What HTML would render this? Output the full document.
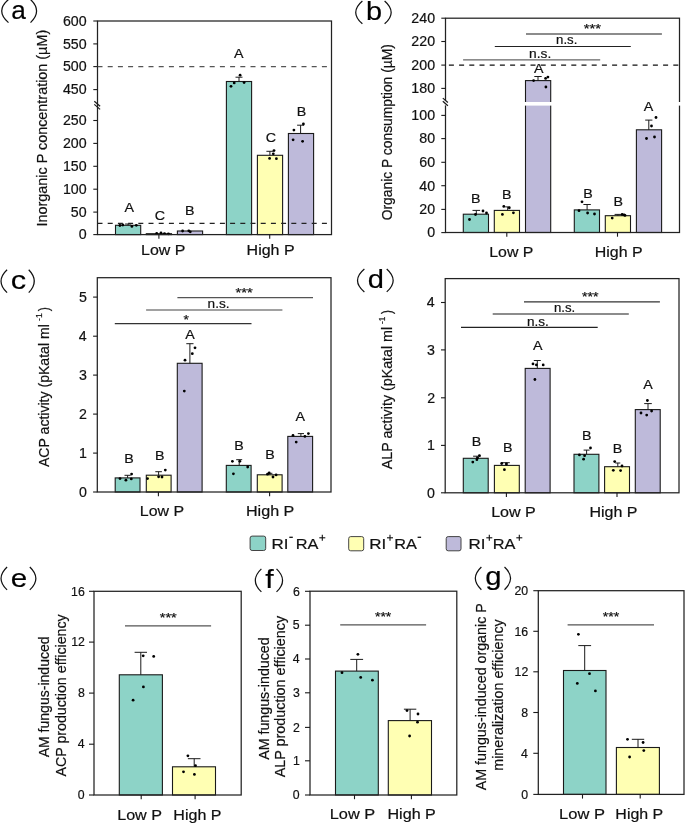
<!DOCTYPE html><html><head><meta charset="utf-8"><style>html,body{margin:0;padding:0;background:#fff;overflow:hidden;}svg{display:block;will-change:transform;}text{font-family:"Liberation Sans",sans-serif;stroke:#111;stroke-width:0.2px;}</style></head><body>
<svg width="685" height="823" viewBox="0 0 685 823">
<rect width="685" height="823" fill="#fff"/>
<rect x="115.50" y="225.30" width="25.20" height="9.30" fill="#8dd3c7" stroke="#1a1a1a" stroke-width="1.1"/>
<rect x="146.30" y="233.70" width="25.20" height="0.90" fill="#ffffb3" stroke="#1a1a1a" stroke-width="1.1"/>
<rect x="177.40" y="231.00" width="25.20" height="3.60" fill="#bebada" stroke="#1a1a1a" stroke-width="1.1"/>
<rect x="226.40" y="81.50" width="25.20" height="153.10" fill="#8dd3c7" stroke="#1a1a1a" stroke-width="1.1"/>
<rect x="257.40" y="155.30" width="25.20" height="79.30" fill="#ffffb3" stroke="#1a1a1a" stroke-width="1.1"/>
<rect x="288.40" y="133.50" width="25.20" height="101.10" fill="#bebada" stroke="#1a1a1a" stroke-width="1.1"/>
<line x1="239.00" y1="81.50" x2="239.00" y2="77.20" stroke="#1a1a1a" stroke-width="1.0" />
<line x1="235.50" y1="77.20" x2="242.50" y2="77.20" stroke="#1a1a1a" stroke-width="1.0" />
<line x1="269.90" y1="155.30" x2="269.90" y2="151.30" stroke="#1a1a1a" stroke-width="1.0" />
<line x1="266.40" y1="151.30" x2="273.40" y2="151.30" stroke="#1a1a1a" stroke-width="1.0" />
<line x1="300.60" y1="133.50" x2="300.60" y2="125.20" stroke="#1a1a1a" stroke-width="1.0" />
<line x1="297.10" y1="125.20" x2="304.10" y2="125.20" stroke="#1a1a1a" stroke-width="1.0" />
<line x1="128.10" y1="225.30" x2="128.10" y2="224.00" stroke="#1a1a1a" stroke-width="1.0" />
<line x1="125.10" y1="224.00" x2="131.10" y2="224.00" stroke="#1a1a1a" stroke-width="1.0" />
<circle cx="240.10" cy="75.20" r="1.4" fill="#000"/>
<circle cx="234.20" cy="82.90" r="1.4" fill="#000"/>
<circle cx="231.00" cy="86.30" r="1.4" fill="#000"/>
<circle cx="244.10" cy="82.60" r="1.4" fill="#000"/>
<circle cx="274.00" cy="150.60" r="1.4" fill="#000"/>
<circle cx="273.30" cy="153.80" r="1.4" fill="#000"/>
<circle cx="269.60" cy="158.40" r="1.4" fill="#000"/>
<circle cx="276.40" cy="158.70" r="1.4" fill="#000"/>
<circle cx="303.40" cy="124.00" r="1.4" fill="#000"/>
<circle cx="293.90" cy="130.10" r="1.4" fill="#000"/>
<circle cx="293.10" cy="139.80" r="1.4" fill="#000"/>
<circle cx="302.60" cy="141.30" r="1.4" fill="#000"/>
<circle cx="119.90" cy="225.50" r="1.4" fill="#000"/>
<circle cx="122.80" cy="225.00" r="1.4" fill="#000"/>
<circle cx="131.90" cy="226.40" r="1.4" fill="#000"/>
<circle cx="136.30" cy="225.30" r="1.4" fill="#000"/>
<circle cx="156.70" cy="233.50" r="1.4" fill="#000"/>
<circle cx="161.00" cy="233.00" r="1.4" fill="#000"/>
<circle cx="164.50" cy="233.60" r="1.4" fill="#000"/>
<circle cx="168.40" cy="233.80" r="1.4" fill="#000"/>
<circle cx="182.60" cy="231.00" r="1.4" fill="#000"/>
<circle cx="188.80" cy="230.80" r="1.4" fill="#000"/>
<circle cx="190.30" cy="231.80" r="1.4" fill="#000"/>
<rect x="97.50" y="21.00" width="234.00" height="213.60" fill="none" stroke="#222" stroke-width="1.25"/>
<line x1="97.50" y1="66.60" x2="328.00" y2="66.60" stroke="#555" stroke-width="1.2" stroke-dasharray="5.0,5.2"/>
<line x1="97.50" y1="223.30" x2="328.00" y2="223.30" stroke="#222" stroke-width="1.2" stroke-dasharray="5.0,5.2"/>
<line x1="93.30" y1="21.00" x2="97.50" y2="21.00" stroke="#1a1a1a" stroke-width="1.1" />
<text x="62.95" y="25.88" font-size="14.20" textLength="23.69" lengthAdjust="spacingAndGlyphs" fill="#111" >600</text>
<line x1="93.30" y1="43.90" x2="97.50" y2="43.90" stroke="#1a1a1a" stroke-width="1.1" />
<text x="62.95" y="48.78" font-size="14.20" textLength="23.69" lengthAdjust="spacingAndGlyphs" fill="#111" >550</text>
<line x1="93.30" y1="66.60" x2="97.50" y2="66.60" stroke="#1a1a1a" stroke-width="1.1" />
<text x="62.95" y="71.48" font-size="14.20" textLength="23.69" lengthAdjust="spacingAndGlyphs" fill="#111" >500</text>
<line x1="93.30" y1="89.60" x2="97.50" y2="89.60" stroke="#1a1a1a" stroke-width="1.1" />
<text x="62.95" y="94.48" font-size="14.20" textLength="23.69" lengthAdjust="spacingAndGlyphs" fill="#111" >450</text>
<line x1="93.30" y1="120.50" x2="97.50" y2="120.50" stroke="#1a1a1a" stroke-width="1.1" />
<text x="62.95" y="125.38" font-size="14.20" textLength="23.69" lengthAdjust="spacingAndGlyphs" fill="#111" >250</text>
<line x1="93.30" y1="143.40" x2="97.50" y2="143.40" stroke="#1a1a1a" stroke-width="1.1" />
<text x="62.95" y="148.28" font-size="14.20" textLength="23.69" lengthAdjust="spacingAndGlyphs" fill="#111" >200</text>
<line x1="93.30" y1="166.30" x2="97.50" y2="166.30" stroke="#1a1a1a" stroke-width="1.1" />
<text x="62.95" y="171.18" font-size="14.20" textLength="23.69" lengthAdjust="spacingAndGlyphs" fill="#111" >150</text>
<line x1="93.30" y1="189.20" x2="97.50" y2="189.20" stroke="#1a1a1a" stroke-width="1.1" />
<text x="62.95" y="194.08" font-size="14.20" textLength="23.69" lengthAdjust="spacingAndGlyphs" fill="#111" >100</text>
<line x1="93.30" y1="212.10" x2="97.50" y2="212.10" stroke="#1a1a1a" stroke-width="1.1" />
<text x="70.87" y="216.98" font-size="14.20" textLength="15.80" lengthAdjust="spacingAndGlyphs" fill="#111" >50</text>
<line x1="93.30" y1="234.60" x2="97.50" y2="234.60" stroke="#1a1a1a" stroke-width="1.1" />
<text x="78.75" y="239.48" font-size="14.20" textLength="7.90" lengthAdjust="spacingAndGlyphs" fill="#111" >0</text>
<line x1="94.30" y1="101.30" x2="100.10" y2="106.30" stroke="#1a1a1a" stroke-width="1.2" />
<line x1="94.30" y1="104.40" x2="100.10" y2="109.40" stroke="#1a1a1a" stroke-width="1.2" />
<line x1="158.90" y1="234.60" x2="158.90" y2="238.80" stroke="#1a1a1a" stroke-width="1.1" />
<line x1="269.70" y1="234.60" x2="269.70" y2="238.80" stroke="#1a1a1a" stroke-width="1.1" />
<text x="124.64" y="211.80" font-size="13.20" textLength="9.51" lengthAdjust="spacingAndGlyphs" fill="#111" >A</text>
<text x="154.66" y="220.10" font-size="13.20" textLength="10.30" lengthAdjust="spacingAndGlyphs" fill="#111" >C</text>
<text x="184.93" y="214.70" font-size="13.20" textLength="9.51" lengthAdjust="spacingAndGlyphs" fill="#111" >B</text>
<text x="234.04" y="58.00" font-size="13.20" textLength="9.51" lengthAdjust="spacingAndGlyphs" fill="#111" >A</text>
<text x="265.76" y="141.80" font-size="13.20" textLength="10.30" lengthAdjust="spacingAndGlyphs" fill="#111" >C</text>
<text x="296.73" y="115.80" font-size="13.20" textLength="9.51" lengthAdjust="spacingAndGlyphs" fill="#111" >B</text>
<text x="141.08" y="254.90" font-size="14.80" textLength="44.34" lengthAdjust="spacingAndGlyphs" fill="#111" >Low P</text>
<text x="246.58" y="254.90" font-size="14.80" textLength="48.05" lengthAdjust="spacingAndGlyphs" fill="#111" >High P</text>
<text transform="translate(46.60,226.53) rotate(-90)" font-size="14.30" textLength="196.70" lengthAdjust="spacingAndGlyphs" fill="#111">Inorganic P concentration (µM)</text>
<path d="M8.47,-0.50 Q-5.02,11.05 8.47,22.60" fill="none" stroke="#111" stroke-width="1.25"/>
<path d="M30.52,-0.50 Q42.63,11.05 30.52,22.60" fill="none" stroke="#111" stroke-width="1.25"/>
<text x="11.29" y="18.90" font-size="26.00" textLength="14.58" lengthAdjust="spacingAndGlyphs" fill="#000" >a</text>
<rect x="463.30" y="214.20" width="25.20" height="18.30" fill="#8dd3c7" stroke="#1a1a1a" stroke-width="1.1"/>
<rect x="494.30" y="210.40" width="25.20" height="22.10" fill="#ffffb3" stroke="#1a1a1a" stroke-width="1.1"/>
<rect x="525.50" y="80.60" width="25.20" height="151.90" fill="#bebada" stroke="#1a1a1a" stroke-width="1.1"/>
<rect x="574.30" y="209.90" width="25.20" height="22.60" fill="#8dd3c7" stroke="#1a1a1a" stroke-width="1.1"/>
<rect x="605.30" y="215.70" width="25.20" height="16.80" fill="#ffffb3" stroke="#1a1a1a" stroke-width="1.1"/>
<rect x="636.40" y="129.80" width="25.20" height="102.70" fill="#bebada" stroke="#1a1a1a" stroke-width="1.1"/>
<line x1="476.30" y1="214.20" x2="476.30" y2="210.40" stroke="#1a1a1a" stroke-width="1.0" />
<line x1="472.50" y1="210.40" x2="480.10" y2="210.40" stroke="#1a1a1a" stroke-width="1.0" />
<line x1="507.70" y1="210.40" x2="507.70" y2="206.90" stroke="#1a1a1a" stroke-width="1.0" />
<line x1="505.20" y1="206.90" x2="510.20" y2="206.90" stroke="#1a1a1a" stroke-width="1.0" />
<line x1="538.00" y1="80.60" x2="538.00" y2="76.50" stroke="#1a1a1a" stroke-width="1.0" />
<line x1="534.30" y1="76.50" x2="541.70" y2="76.50" stroke="#1a1a1a" stroke-width="1.0" />
<line x1="587.10" y1="209.90" x2="587.10" y2="204.50" stroke="#1a1a1a" stroke-width="1.0" />
<line x1="583.40" y1="204.50" x2="590.80" y2="204.50" stroke="#1a1a1a" stroke-width="1.0" />
<line x1="617.90" y1="215.70" x2="617.90" y2="214.40" stroke="#1a1a1a" stroke-width="1.0" />
<line x1="614.60" y1="214.40" x2="621.20" y2="214.40" stroke="#1a1a1a" stroke-width="1.0" />
<line x1="648.80" y1="129.80" x2="648.80" y2="120.10" stroke="#1a1a1a" stroke-width="1.0" />
<line x1="645.20" y1="120.10" x2="652.40" y2="120.10" stroke="#1a1a1a" stroke-width="1.0" />
<circle cx="469.50" cy="219.50" r="1.4" fill="#000"/>
<circle cx="475.50" cy="214.50" r="1.4" fill="#000"/>
<circle cx="483.00" cy="211.00" r="1.4" fill="#000"/>
<circle cx="486.50" cy="213.00" r="1.4" fill="#000"/>
<circle cx="503.80" cy="206.40" r="1.4" fill="#000"/>
<circle cx="509.30" cy="207.80" r="1.4" fill="#000"/>
<circle cx="502.40" cy="214.40" r="1.4" fill="#000"/>
<circle cx="513.40" cy="212.80" r="1.4" fill="#000"/>
<circle cx="533.60" cy="80.60" r="1.4" fill="#000"/>
<circle cx="545.60" cy="78.40" r="1.4" fill="#000"/>
<circle cx="547.90" cy="77.10" r="1.4" fill="#000"/>
<circle cx="545.90" cy="87.00" r="1.4" fill="#000"/>
<circle cx="582.00" cy="201.80" r="1.4" fill="#000"/>
<circle cx="579.00" cy="210.70" r="1.4" fill="#000"/>
<circle cx="587.60" cy="213.00" r="1.4" fill="#000"/>
<circle cx="594.50" cy="214.00" r="1.4" fill="#000"/>
<circle cx="612.20" cy="218.10" r="1.4" fill="#000"/>
<circle cx="622.20" cy="214.40" r="1.4" fill="#000"/>
<circle cx="624.10" cy="214.90" r="1.4" fill="#000"/>
<circle cx="625.00" cy="215.40" r="1.4" fill="#000"/>
<circle cx="656.00" cy="117.50" r="1.4" fill="#000"/>
<circle cx="651.50" cy="126.00" r="1.4" fill="#000"/>
<circle cx="646.50" cy="138.50" r="1.4" fill="#000"/>
<circle cx="654.50" cy="137.00" r="1.4" fill="#000"/>
<rect x="445.50" y="18.20" width="234.00" height="214.30" fill="none" stroke="#222" stroke-width="1.25"/>
<line x1="448.90" y1="65.20" x2="679.50" y2="65.20" stroke="#111" stroke-width="1.2" stroke-dasharray="5.0,5.2"/>
<rect x="446.30" y="102.0" width="235.00" height="3.6" fill="#fff"/>
<rect x="444.50" y="100.6" width="2" height="4.8" fill="#fff"/>
<line x1="442.80" y1="98.10" x2="447.90" y2="102.50" stroke="#1a1a1a" stroke-width="1.2" />
<line x1="442.80" y1="101.30" x2="447.90" y2="105.80" stroke="#1a1a1a" stroke-width="1.2" />
<line x1="441.30" y1="18.20" x2="445.50" y2="18.20" stroke="#1a1a1a" stroke-width="1.1" />
<text x="411.35" y="23.08" font-size="14.20" textLength="23.69" lengthAdjust="spacingAndGlyphs" fill="#111" >240</text>
<line x1="441.30" y1="41.50" x2="445.50" y2="41.50" stroke="#1a1a1a" stroke-width="1.1" />
<text x="411.35" y="46.38" font-size="14.20" textLength="23.69" lengthAdjust="spacingAndGlyphs" fill="#111" >220</text>
<line x1="441.30" y1="65.10" x2="445.50" y2="65.10" stroke="#1a1a1a" stroke-width="1.1" />
<text x="411.35" y="69.98" font-size="14.20" textLength="23.69" lengthAdjust="spacingAndGlyphs" fill="#111" >200</text>
<line x1="441.30" y1="88.40" x2="445.50" y2="88.40" stroke="#1a1a1a" stroke-width="1.1" />
<text x="411.35" y="93.28" font-size="14.20" textLength="23.69" lengthAdjust="spacingAndGlyphs" fill="#111" >180</text>
<line x1="441.30" y1="115.40" x2="445.50" y2="115.40" stroke="#1a1a1a" stroke-width="1.1" />
<text x="411.35" y="120.28" font-size="14.20" textLength="23.69" lengthAdjust="spacingAndGlyphs" fill="#111" >100</text>
<line x1="441.30" y1="138.60" x2="445.50" y2="138.60" stroke="#1a1a1a" stroke-width="1.1" />
<text x="419.27" y="143.48" font-size="14.20" textLength="15.80" lengthAdjust="spacingAndGlyphs" fill="#111" >80</text>
<line x1="441.30" y1="162.30" x2="445.50" y2="162.30" stroke="#1a1a1a" stroke-width="1.1" />
<text x="419.27" y="167.18" font-size="14.20" textLength="15.80" lengthAdjust="spacingAndGlyphs" fill="#111" >60</text>
<line x1="441.30" y1="185.70" x2="445.50" y2="185.70" stroke="#1a1a1a" stroke-width="1.1" />
<text x="419.27" y="190.58" font-size="14.20" textLength="15.80" lengthAdjust="spacingAndGlyphs" fill="#111" >40</text>
<line x1="441.30" y1="209.40" x2="445.50" y2="209.40" stroke="#1a1a1a" stroke-width="1.1" />
<text x="419.27" y="214.28" font-size="14.20" textLength="15.80" lengthAdjust="spacingAndGlyphs" fill="#111" >20</text>
<line x1="441.30" y1="232.60" x2="445.50" y2="232.60" stroke="#1a1a1a" stroke-width="1.1" />
<text x="427.15" y="237.48" font-size="14.20" textLength="7.90" lengthAdjust="spacingAndGlyphs" fill="#111" >0</text>
<line x1="506.80" y1="232.50" x2="506.80" y2="236.70" stroke="#1a1a1a" stroke-width="1.1" />
<line x1="617.50" y1="232.50" x2="617.50" y2="236.70" stroke="#1a1a1a" stroke-width="1.1" />
<text x="471.03" y="202.50" font-size="13.20" textLength="9.51" lengthAdjust="spacingAndGlyphs" fill="#111" >B</text>
<text x="502.03" y="199.00" font-size="13.20" textLength="9.51" lengthAdjust="spacingAndGlyphs" fill="#111" >B</text>
<text x="533.94" y="73.00" font-size="13.20" textLength="9.51" lengthAdjust="spacingAndGlyphs" fill="#111" >A</text>
<text x="583.33" y="198.20" font-size="13.20" textLength="9.51" lengthAdjust="spacingAndGlyphs" fill="#111" >B</text>
<text x="613.53" y="205.60" font-size="13.20" textLength="9.51" lengthAdjust="spacingAndGlyphs" fill="#111" >B</text>
<text x="643.84" y="110.70" font-size="13.20" textLength="9.51" lengthAdjust="spacingAndGlyphs" fill="#111" >A</text>
<line x1="463.10" y1="59.80" x2="600.20" y2="59.80" stroke="#666" stroke-width="1.3" />
<line x1="494.80" y1="46.50" x2="630.80" y2="46.50" stroke="#222" stroke-width="1.2" />
<line x1="526.00" y1="34.00" x2="661.90" y2="34.00" stroke="#666" stroke-width="1.3" />
<text x="529.07" y="57.90" font-size="12.50" textLength="22.16" lengthAdjust="spacingAndGlyphs" fill="#111" >n.s.</text>
<text x="556.11" y="43.90" font-size="12.50" textLength="21.27" lengthAdjust="spacingAndGlyphs" fill="#111" >n.s.</text>
<text x="583.84" y="33.20" font-size="12.00" textLength="17.32" lengthAdjust="spacingAndGlyphs" fill="#111" >***</text>
<text x="489.29" y="256.50" font-size="14.80" textLength="44.13" lengthAdjust="spacingAndGlyphs" fill="#111" >Low P</text>
<text x="594.79" y="256.60" font-size="14.80" textLength="47.84" lengthAdjust="spacingAndGlyphs" fill="#111" >High P</text>
<text transform="translate(391.60,220.36) rotate(-90)" font-size="14.00" textLength="176.28" lengthAdjust="spacingAndGlyphs" fill="#111">Organic P consumption (µM)</text>
<path d="M362.38,1.00 Q349.08,12.40 362.38,23.80" fill="none" stroke="#111" stroke-width="1.25"/>
<path d="M384.62,1.00 Q397.73,12.40 384.62,23.80" fill="none" stroke="#111" stroke-width="1.25"/>
<text x="366.02" y="20.30" font-size="26.00" textLength="16.07" lengthAdjust="spacingAndGlyphs" fill="#000" >b</text>
<rect x="115.20" y="477.90" width="24.80" height="14.10" fill="#8dd3c7" stroke="#1a1a1a" stroke-width="1.1"/>
<rect x="146.30" y="475.20" width="24.80" height="16.80" fill="#ffffb3" stroke="#1a1a1a" stroke-width="1.1"/>
<rect x="177.30" y="363.30" width="24.80" height="128.70" fill="#bebada" stroke="#1a1a1a" stroke-width="1.1"/>
<rect x="226.30" y="465.40" width="24.80" height="26.60" fill="#8dd3c7" stroke="#1a1a1a" stroke-width="1.1"/>
<rect x="257.30" y="474.80" width="24.80" height="17.20" fill="#ffffb3" stroke="#1a1a1a" stroke-width="1.1"/>
<rect x="287.80" y="436.40" width="24.80" height="55.60" fill="#bebada" stroke="#1a1a1a" stroke-width="1.1"/>
<line x1="127.60" y1="477.90" x2="127.60" y2="475.30" stroke="#1a1a1a" stroke-width="1.0" />
<line x1="124.50" y1="475.30" x2="130.70" y2="475.30" stroke="#1a1a1a" stroke-width="1.0" />
<line x1="158.60" y1="475.20" x2="158.60" y2="471.70" stroke="#1a1a1a" stroke-width="1.0" />
<line x1="155.30" y1="471.70" x2="161.90" y2="471.70" stroke="#1a1a1a" stroke-width="1.0" />
<line x1="189.90" y1="363.30" x2="189.90" y2="343.70" stroke="#1a1a1a" stroke-width="1.0" />
<line x1="186.30" y1="343.70" x2="193.50" y2="343.70" stroke="#1a1a1a" stroke-width="1.0" />
<line x1="239.20" y1="465.40" x2="239.20" y2="459.70" stroke="#1a1a1a" stroke-width="1.0" />
<line x1="236.20" y1="459.70" x2="242.20" y2="459.70" stroke="#1a1a1a" stroke-width="1.0" />
<line x1="269.90" y1="474.80" x2="269.90" y2="473.30" stroke="#1a1a1a" stroke-width="1.0" />
<line x1="267.40" y1="473.30" x2="272.40" y2="473.30" stroke="#1a1a1a" stroke-width="1.0" />
<line x1="300.90" y1="436.40" x2="300.90" y2="433.60" stroke="#1a1a1a" stroke-width="1.0" />
<line x1="297.80" y1="433.60" x2="304.00" y2="433.60" stroke="#1a1a1a" stroke-width="1.0" />
<circle cx="120.00" cy="478.60" r="1.4" fill="#000"/>
<circle cx="125.90" cy="480.20" r="1.4" fill="#000"/>
<circle cx="131.30" cy="478.90" r="1.4" fill="#000"/>
<circle cx="131.60" cy="474.10" r="1.4" fill="#000"/>
<circle cx="147.50" cy="478.60" r="1.4" fill="#000"/>
<circle cx="158.60" cy="476.80" r="1.4" fill="#000"/>
<circle cx="162.00" cy="477.00" r="1.4" fill="#000"/>
<circle cx="165.30" cy="470.10" r="1.4" fill="#000"/>
<circle cx="195.00" cy="347.80" r="1.4" fill="#000"/>
<circle cx="192.30" cy="353.70" r="1.4" fill="#000"/>
<circle cx="185.00" cy="360.20" r="1.4" fill="#000"/>
<circle cx="184.30" cy="391.10" r="1.4" fill="#000"/>
<circle cx="232.40" cy="461.30" r="1.4" fill="#000"/>
<circle cx="239.80" cy="461.30" r="1.4" fill="#000"/>
<circle cx="247.70" cy="467.00" r="1.4" fill="#000"/>
<circle cx="233.40" cy="473.80" r="1.4" fill="#000"/>
<circle cx="267.50" cy="474.20" r="1.4" fill="#000"/>
<circle cx="269.20" cy="472.90" r="1.4" fill="#000"/>
<circle cx="273.00" cy="477.00" r="1.4" fill="#000"/>
<circle cx="276.10" cy="474.90" r="1.4" fill="#000"/>
<circle cx="293.00" cy="435.40" r="1.4" fill="#000"/>
<circle cx="304.90" cy="436.40" r="1.4" fill="#000"/>
<circle cx="308.40" cy="433.60" r="1.4" fill="#000"/>
<circle cx="296.20" cy="442.10" r="1.4" fill="#000"/>
<rect x="97.30" y="277.70" width="233.70" height="214.30" fill="none" stroke="#222" stroke-width="1.25"/>
<line x1="93.10" y1="297.10" x2="97.30" y2="297.10" stroke="#1a1a1a" stroke-width="1.1" />
<text x="78.99" y="301.98" font-size="14.20" textLength="7.90" lengthAdjust="spacingAndGlyphs" fill="#111" >5</text>
<line x1="93.10" y1="336.20" x2="97.30" y2="336.20" stroke="#1a1a1a" stroke-width="1.1" />
<text x="78.81" y="341.08" font-size="14.20" textLength="7.90" lengthAdjust="spacingAndGlyphs" fill="#111" >4</text>
<line x1="93.10" y1="375.10" x2="97.30" y2="375.10" stroke="#1a1a1a" stroke-width="1.1" />
<text x="79.02" y="379.98" font-size="14.20" textLength="7.90" lengthAdjust="spacingAndGlyphs" fill="#111" >3</text>
<line x1="93.10" y1="414.10" x2="97.30" y2="414.10" stroke="#1a1a1a" stroke-width="1.1" />
<text x="79.13" y="418.98" font-size="14.20" textLength="7.90" lengthAdjust="spacingAndGlyphs" fill="#111" >2</text>
<line x1="93.10" y1="453.10" x2="97.30" y2="453.10" stroke="#1a1a1a" stroke-width="1.1" />
<text x="79.09" y="457.98" font-size="14.20" textLength="7.90" lengthAdjust="spacingAndGlyphs" fill="#111" >1</text>
<line x1="93.10" y1="492.00" x2="97.30" y2="492.00" stroke="#1a1a1a" stroke-width="1.1" />
<text x="78.95" y="496.88" font-size="14.20" textLength="7.90" lengthAdjust="spacingAndGlyphs" fill="#111" >0</text>
<line x1="158.40" y1="492.00" x2="158.40" y2="496.20" stroke="#1a1a1a" stroke-width="1.1" />
<line x1="269.60" y1="492.00" x2="269.60" y2="496.20" stroke="#1a1a1a" stroke-width="1.1" />
<text x="124.33" y="463.40" font-size="13.20" textLength="9.51" lengthAdjust="spacingAndGlyphs" fill="#111" >B</text>
<text x="155.03" y="459.70" font-size="13.20" textLength="9.51" lengthAdjust="spacingAndGlyphs" fill="#111" >B</text>
<text x="185.24" y="339.00" font-size="13.20" textLength="9.51" lengthAdjust="spacingAndGlyphs" fill="#111" >A</text>
<text x="234.33" y="449.70" font-size="13.20" textLength="9.51" lengthAdjust="spacingAndGlyphs" fill="#111" >B</text>
<text x="265.33" y="459.00" font-size="13.20" textLength="9.51" lengthAdjust="spacingAndGlyphs" fill="#111" >B</text>
<text x="295.44" y="420.50" font-size="13.20" textLength="9.51" lengthAdjust="spacingAndGlyphs" fill="#111" >A</text>
<line x1="114.80" y1="323.70" x2="251.50" y2="323.70" stroke="#333" stroke-width="1.2" />
<line x1="146.10" y1="310.00" x2="282.40" y2="310.00" stroke="#444" stroke-width="1.2" />
<line x1="177.40" y1="297.70" x2="313.00" y2="297.70" stroke="#555" stroke-width="1.2" />
<text x="183.56" y="324.10" font-size="12.00" textLength="5.37" lengthAdjust="spacingAndGlyphs" fill="#111" >*</text>
<text x="207.58" y="308.00" font-size="12.80" textLength="21.93" lengthAdjust="spacingAndGlyphs" fill="#111" >n.s.</text>
<text x="235.64" y="297.10" font-size="12.00" textLength="17.22" lengthAdjust="spacingAndGlyphs" fill="#111" >***</text>
<text x="139.79" y="515.90" font-size="14.80" textLength="44.24" lengthAdjust="spacingAndGlyphs" fill="#111" >Low P</text>
<text x="245.97" y="515.90" font-size="14.80" textLength="48.36" lengthAdjust="spacingAndGlyphs" fill="#111" >High P</text>
<text transform="translate(48.50,467.04) rotate(-90)" font-size="14.00" textLength="142.87" lengthAdjust="spacingAndGlyphs" fill="#111">ACP activity (pKatal ml</text>
<text transform="translate(41.80,320.99) rotate(-90)" font-size="9.50" textLength="7.72" lengthAdjust="spacingAndGlyphs" fill="#111">-1</text>
<text transform="translate(48.50,311.29) rotate(-90)" font-size="14.00" textLength="4.15" lengthAdjust="spacingAndGlyphs" fill="#111">)</text>
<path d="M7.08,269.70 Q-5.03,281.15 7.08,292.60" fill="none" stroke="#111" stroke-width="1.25"/>
<path d="M28.73,269.70 Q39.82,281.15 28.73,292.60" fill="none" stroke="#111" stroke-width="1.25"/>
<text x="10.70" y="288.70" font-size="26.00" textLength="15.35" lengthAdjust="spacingAndGlyphs" fill="#000" >c</text>
<rect x="463.30" y="458.30" width="24.90" height="34.50" fill="#8dd3c7" stroke="#1a1a1a" stroke-width="1.1"/>
<rect x="494.40" y="465.40" width="24.90" height="27.40" fill="#ffffb3" stroke="#1a1a1a" stroke-width="1.1"/>
<rect x="525.20" y="368.40" width="24.90" height="124.40" fill="#bebada" stroke="#1a1a1a" stroke-width="1.1"/>
<rect x="574.00" y="454.30" width="24.90" height="38.50" fill="#8dd3c7" stroke="#1a1a1a" stroke-width="1.1"/>
<rect x="604.60" y="466.70" width="24.90" height="26.10" fill="#ffffb3" stroke="#1a1a1a" stroke-width="1.1"/>
<rect x="635.30" y="409.60" width="24.90" height="83.20" fill="#bebada" stroke="#1a1a1a" stroke-width="1.1"/>
<line x1="476.90" y1="458.30" x2="476.90" y2="456.20" stroke="#1a1a1a" stroke-width="1.0" />
<line x1="473.10" y1="456.20" x2="480.70" y2="456.20" stroke="#1a1a1a" stroke-width="1.0" />
<line x1="505.80" y1="465.40" x2="505.80" y2="462.70" stroke="#1a1a1a" stroke-width="1.0" />
<line x1="501.80" y1="462.70" x2="509.80" y2="462.70" stroke="#1a1a1a" stroke-width="1.0" />
<line x1="537.30" y1="368.40" x2="537.30" y2="360.50" stroke="#1a1a1a" stroke-width="1.0" />
<line x1="533.80" y1="360.50" x2="540.80" y2="360.50" stroke="#1a1a1a" stroke-width="1.0" />
<line x1="586.60" y1="454.30" x2="586.60" y2="450.10" stroke="#1a1a1a" stroke-width="1.0" />
<line x1="583.60" y1="450.10" x2="589.60" y2="450.10" stroke="#1a1a1a" stroke-width="1.0" />
<line x1="617.80" y1="466.70" x2="617.80" y2="463.00" stroke="#1a1a1a" stroke-width="1.0" />
<line x1="615.30" y1="463.00" x2="620.30" y2="463.00" stroke="#1a1a1a" stroke-width="1.0" />
<line x1="648.00" y1="409.60" x2="648.00" y2="403.60" stroke="#1a1a1a" stroke-width="1.0" />
<line x1="644.20" y1="403.60" x2="651.80" y2="403.60" stroke="#1a1a1a" stroke-width="1.0" />
<circle cx="472.80" cy="462.10" r="1.4" fill="#000"/>
<circle cx="476.90" cy="459.70" r="1.4" fill="#000"/>
<circle cx="477.60" cy="457.80" r="1.4" fill="#000"/>
<circle cx="479.40" cy="455.60" r="1.4" fill="#000"/>
<circle cx="501.70" cy="463.50" r="1.4" fill="#000"/>
<circle cx="506.50" cy="464.00" r="1.4" fill="#000"/>
<circle cx="504.40" cy="469.70" r="1.4" fill="#000"/>
<circle cx="533.00" cy="363.90" r="1.4" fill="#000"/>
<circle cx="536.40" cy="364.90" r="1.4" fill="#000"/>
<circle cx="543.20" cy="364.90" r="1.4" fill="#000"/>
<circle cx="534.90" cy="379.50" r="1.4" fill="#000"/>
<circle cx="579.40" cy="454.90" r="1.4" fill="#000"/>
<circle cx="584.60" cy="455.70" r="1.4" fill="#000"/>
<circle cx="583.60" cy="459.20" r="1.4" fill="#000"/>
<circle cx="590.50" cy="448.00" r="1.4" fill="#000"/>
<circle cx="614.70" cy="461.60" r="1.4" fill="#000"/>
<circle cx="622.00" cy="466.00" r="1.4" fill="#000"/>
<circle cx="613.30" cy="470.30" r="1.4" fill="#000"/>
<circle cx="620.60" cy="470.60" r="1.4" fill="#000"/>
<circle cx="647.40" cy="400.50" r="1.4" fill="#000"/>
<circle cx="641.00" cy="413.00" r="1.4" fill="#000"/>
<circle cx="646.70" cy="415.10" r="1.4" fill="#000"/>
<circle cx="651.60" cy="411.00" r="1.4" fill="#000"/>
<rect x="445.20" y="278.60" width="233.80" height="214.20" fill="none" stroke="#222" stroke-width="1.25"/>
<line x1="441.00" y1="302.50" x2="445.20" y2="302.50" stroke="#1a1a1a" stroke-width="1.1" />
<text x="426.81" y="307.38" font-size="14.20" textLength="7.90" lengthAdjust="spacingAndGlyphs" fill="#111" >4</text>
<line x1="441.00" y1="349.90" x2="445.20" y2="349.90" stroke="#1a1a1a" stroke-width="1.1" />
<text x="427.02" y="354.78" font-size="14.20" textLength="7.90" lengthAdjust="spacingAndGlyphs" fill="#111" >3</text>
<line x1="441.00" y1="397.80" x2="445.20" y2="397.80" stroke="#1a1a1a" stroke-width="1.1" />
<text x="427.13" y="402.68" font-size="14.20" textLength="7.90" lengthAdjust="spacingAndGlyphs" fill="#111" >2</text>
<line x1="441.00" y1="445.40" x2="445.20" y2="445.40" stroke="#1a1a1a" stroke-width="1.1" />
<text x="427.09" y="450.28" font-size="14.20" textLength="7.90" lengthAdjust="spacingAndGlyphs" fill="#111" >1</text>
<line x1="441.00" y1="492.80" x2="445.20" y2="492.80" stroke="#1a1a1a" stroke-width="1.1" />
<text x="426.95" y="497.68" font-size="14.20" textLength="7.90" lengthAdjust="spacingAndGlyphs" fill="#111" >0</text>
<line x1="506.40" y1="492.80" x2="506.40" y2="497.00" stroke="#1a1a1a" stroke-width="1.1" />
<line x1="617.00" y1="492.80" x2="617.00" y2="497.00" stroke="#1a1a1a" stroke-width="1.1" />
<text x="471.83" y="445.80" font-size="13.20" textLength="9.51" lengthAdjust="spacingAndGlyphs" fill="#111" >B</text>
<text x="502.93" y="451.90" font-size="13.20" textLength="9.51" lengthAdjust="spacingAndGlyphs" fill="#111" >B</text>
<text x="532.94" y="350.40" font-size="13.20" textLength="9.51" lengthAdjust="spacingAndGlyphs" fill="#111" >A</text>
<text x="582.13" y="440.10" font-size="13.20" textLength="9.51" lengthAdjust="spacingAndGlyphs" fill="#111" >B</text>
<text x="612.83" y="452.60" font-size="13.20" textLength="9.51" lengthAdjust="spacingAndGlyphs" fill="#111" >B</text>
<text x="643.34" y="388.80" font-size="13.20" textLength="9.51" lengthAdjust="spacingAndGlyphs" fill="#111" >A</text>
<line x1="461.00" y1="327.30" x2="597.70" y2="327.30" stroke="#222" stroke-width="1.2" />
<line x1="492.70" y1="314.00" x2="628.80" y2="314.00" stroke="#666" stroke-width="1.3" />
<line x1="524.00" y1="301.80" x2="659.90" y2="301.80" stroke="#333" stroke-width="1.2" />
<text x="526.99" y="326.00" font-size="12.50" textLength="21.82" lengthAdjust="spacingAndGlyphs" fill="#111" >n.s.</text>
<text x="554.01" y="311.60" font-size="12.50" textLength="21.27" lengthAdjust="spacingAndGlyphs" fill="#111" >n.s.</text>
<text x="581.95" y="300.70" font-size="12.00" textLength="16.50" lengthAdjust="spacingAndGlyphs" fill="#111" >***</text>
<text x="491.17" y="516.90" font-size="14.80" textLength="44.66" lengthAdjust="spacingAndGlyphs" fill="#111" >Low P</text>
<text x="589.48" y="517.40" font-size="14.80" textLength="48.05" lengthAdjust="spacingAndGlyphs" fill="#111" >High P</text>
<text transform="translate(391.60,469.24) rotate(-90)" font-size="14.00" textLength="142.41" lengthAdjust="spacingAndGlyphs" fill="#111">ALP activity (pKatal ml</text>
<text transform="translate(385.30,324.08) rotate(-90)" font-size="9.50" textLength="7.49" lengthAdjust="spacingAndGlyphs" fill="#111">-1</text>
<text transform="translate(391.60,314.09) rotate(-90)" font-size="14.00" textLength="3.90" lengthAdjust="spacingAndGlyphs" fill="#111">)</text>
<path d="M364.38,269.00 Q350.67,280.45 364.38,291.90" fill="none" stroke="#111" stroke-width="1.25"/>
<path d="M386.73,269.00 Q399.62,280.45 386.73,291.90" fill="none" stroke="#111" stroke-width="1.25"/>
<text x="367.76" y="288.20" font-size="26.00" textLength="16.19" lengthAdjust="spacingAndGlyphs" fill="#000" >d</text>
<rect x="250.10" y="536.10" width="15.60" height="14.40" rx="2" ry="2" fill="#8dd3c7" stroke="#444" stroke-width="1"/>
<rect x="348.70" y="536.60" width="15.00" height="14.20" rx="2" ry="2" fill="#ffffb3" stroke="#444" stroke-width="1"/>
<rect x="446.20" y="536.60" width="14.80" height="14.20" rx="2" ry="2" fill="#bebada" stroke="#444" stroke-width="1"/>
<text x="271.60" y="548.90" font-size="14.20" textLength="16.97" lengthAdjust="spacingAndGlyphs" fill="#111" >RI</text>
<text x="295.85" y="548.90" font-size="14.20" textLength="22.67" lengthAdjust="spacingAndGlyphs" fill="#111" >RA</text>
<line x1="289.30" y1="537.30" x2="292.80" y2="537.30" stroke="#111" stroke-width="1.3" />
<line x1="319.30" y1="537.80" x2="325.30" y2="537.80" stroke="#111" stroke-width="1.1" />
<line x1="322.30" y1="534.80" x2="322.30" y2="540.80" stroke="#111" stroke-width="1.1" />
<text x="369.30" y="548.90" font-size="14.20" textLength="16.97" lengthAdjust="spacingAndGlyphs" fill="#111" >RI</text>
<text x="394.15" y="548.90" font-size="14.20" textLength="22.67" lengthAdjust="spacingAndGlyphs" fill="#111" >RA</text>
<line x1="387.00" y1="537.80" x2="393.00" y2="537.80" stroke="#111" stroke-width="1.1" />
<line x1="390.00" y1="534.80" x2="390.00" y2="540.80" stroke="#111" stroke-width="1.1" />
<line x1="417.60" y1="537.30" x2="421.10" y2="537.30" stroke="#111" stroke-width="1.3" />
<text x="468.60" y="548.90" font-size="14.20" textLength="16.97" lengthAdjust="spacingAndGlyphs" fill="#111" >RI</text>
<text x="492.85" y="548.90" font-size="14.20" textLength="22.67" lengthAdjust="spacingAndGlyphs" fill="#111" >RA</text>
<line x1="486.30" y1="537.80" x2="492.30" y2="537.80" stroke="#111" stroke-width="1.1" />
<line x1="489.30" y1="534.80" x2="489.30" y2="540.80" stroke="#111" stroke-width="1.1" />
<line x1="516.30" y1="537.80" x2="522.30" y2="537.80" stroke="#111" stroke-width="1.1" />
<line x1="519.30" y1="534.80" x2="519.30" y2="540.80" stroke="#111" stroke-width="1.1" />
<rect x="119.30" y="674.80" width="43.10" height="120.20" fill="#8dd3c7" stroke="#1a1a1a" stroke-width="1.1"/>
<rect x="172.50" y="766.80" width="43.00" height="28.20" fill="#ffffb3" stroke="#1a1a1a" stroke-width="1.1"/>
<line x1="140.80" y1="674.80" x2="140.80" y2="652.30" stroke="#1a1a1a" stroke-width="1.0" />
<line x1="134.60" y1="652.30" x2="147.00" y2="652.30" stroke="#1a1a1a" stroke-width="1.0" />
<line x1="194.20" y1="766.80" x2="194.20" y2="758.70" stroke="#1a1a1a" stroke-width="1.0" />
<line x1="187.90" y1="758.70" x2="200.50" y2="758.70" stroke="#1a1a1a" stroke-width="1.0" />
<circle cx="143.20" cy="655.80" r="1.4" fill="#000"/>
<circle cx="153.70" cy="656.40" r="1.4" fill="#000"/>
<circle cx="143.40" cy="686.90" r="1.4" fill="#000"/>
<circle cx="133.10" cy="700.20" r="1.4" fill="#000"/>
<circle cx="187.90" cy="755.80" r="1.4" fill="#000"/>
<circle cx="195.50" cy="765.70" r="1.4" fill="#000"/>
<circle cx="183.50" cy="771.80" r="1.4" fill="#000"/>
<circle cx="194.40" cy="774.40" r="1.4" fill="#000"/>
<rect x="94.00" y="591.30" width="147.20" height="203.70" fill="none" stroke="#222" stroke-width="1.25"/>
<line x1="89.00" y1="591.30" x2="94.00" y2="591.30" stroke="#1a1a1a" stroke-width="1.1" />
<text x="71.07" y="595.53" font-size="12.30" textLength="13.68" lengthAdjust="spacingAndGlyphs" fill="#111" >16</text>
<line x1="89.00" y1="642.10" x2="94.00" y2="642.10" stroke="#1a1a1a" stroke-width="1.1" />
<text x="71.16" y="646.33" font-size="12.30" textLength="13.68" lengthAdjust="spacingAndGlyphs" fill="#111" >12</text>
<line x1="89.00" y1="693.10" x2="94.00" y2="693.10" stroke="#1a1a1a" stroke-width="1.1" />
<text x="77.90" y="697.33" font-size="12.30" textLength="6.84" lengthAdjust="spacingAndGlyphs" fill="#111" >8</text>
<line x1="89.00" y1="744.20" x2="94.00" y2="744.20" stroke="#1a1a1a" stroke-width="1.1" />
<text x="77.71" y="748.43" font-size="12.30" textLength="6.84" lengthAdjust="spacingAndGlyphs" fill="#111" >4</text>
<line x1="89.00" y1="795.00" x2="94.00" y2="795.00" stroke="#1a1a1a" stroke-width="1.1" />
<text x="77.83" y="799.23" font-size="12.30" textLength="6.84" lengthAdjust="spacingAndGlyphs" fill="#111" >0</text>
<line x1="141.20" y1="795.00" x2="141.20" y2="799.20" stroke="#1a1a1a" stroke-width="1.1" />
<line x1="195.10" y1="795.00" x2="195.10" y2="799.20" stroke="#1a1a1a" stroke-width="1.1" />
<line x1="125.00" y1="625.80" x2="211.10" y2="625.80" stroke="#555" stroke-width="1.3" />
<text x="159.75" y="622.30" font-size="12.00" textLength="17.01" lengthAdjust="spacingAndGlyphs" fill="#111" >***</text>
<text x="117.17" y="820.00" font-size="14.80" textLength="44.87" lengthAdjust="spacingAndGlyphs" fill="#111" >Low P</text>
<text x="173.38" y="820.00" font-size="14.80" textLength="48.15" lengthAdjust="spacingAndGlyphs" fill="#111" >High P</text>
<text transform="translate(48.70,757.34) rotate(-90)" font-size="14.00" textLength="120.93" lengthAdjust="spacingAndGlyphs" fill="#111">AM fungus-induced</text>
<text transform="translate(65.80,776.54) rotate(-90)" font-size="14.00" textLength="162.26" lengthAdjust="spacingAndGlyphs" fill="#111">ACP production efficiency</text>
<path d="M7.08,567.00 Q-5.03,578.45 7.08,589.90" fill="none" stroke="#111" stroke-width="1.25"/>
<path d="M29.82,567.00 Q41.92,578.45 29.82,589.90" fill="none" stroke="#111" stroke-width="1.25"/>
<text x="10.74" y="586.50" font-size="26.00" textLength="16.45" lengthAdjust="spacingAndGlyphs" fill="#000" >e</text>
<rect x="335.50" y="671.10" width="42.80" height="123.90" fill="#8dd3c7" stroke="#1a1a1a" stroke-width="1.1"/>
<rect x="388.30" y="720.60" width="43.20" height="74.40" fill="#ffffb3" stroke="#1a1a1a" stroke-width="1.1"/>
<line x1="356.70" y1="671.10" x2="356.70" y2="659.40" stroke="#1a1a1a" stroke-width="1.0" />
<line x1="350.30" y1="659.40" x2="363.10" y2="659.40" stroke="#1a1a1a" stroke-width="1.0" />
<line x1="410.10" y1="720.60" x2="410.10" y2="709.20" stroke="#1a1a1a" stroke-width="1.0" />
<line x1="403.90" y1="709.20" x2="416.30" y2="709.20" stroke="#1a1a1a" stroke-width="1.0" />
<circle cx="357.90" cy="654.30" r="1.4" fill="#000"/>
<circle cx="342.00" cy="672.70" r="1.4" fill="#000"/>
<circle cx="360.70" cy="677.40" r="1.4" fill="#000"/>
<circle cx="372.40" cy="680.20" r="1.4" fill="#000"/>
<circle cx="407.00" cy="710.60" r="1.4" fill="#000"/>
<circle cx="418.00" cy="714.00" r="1.4" fill="#000"/>
<circle cx="417.50" cy="722.20" r="1.4" fill="#000"/>
<circle cx="409.60" cy="736.00" r="1.4" fill="#000"/>
<rect x="310.00" y="591.20" width="146.80" height="203.80" fill="none" stroke="#222" stroke-width="1.25"/>
<line x1="305.00" y1="591.30" x2="310.00" y2="591.30" stroke="#1a1a1a" stroke-width="1.1" />
<text x="292.90" y="595.53" font-size="12.30" textLength="6.84" lengthAdjust="spacingAndGlyphs" fill="#111" >6</text>
<line x1="305.00" y1="625.20" x2="310.00" y2="625.20" stroke="#1a1a1a" stroke-width="1.1" />
<text x="292.87" y="629.43" font-size="12.30" textLength="6.84" lengthAdjust="spacingAndGlyphs" fill="#111" >5</text>
<line x1="305.00" y1="659.00" x2="310.00" y2="659.00" stroke="#1a1a1a" stroke-width="1.1" />
<text x="292.71" y="663.23" font-size="12.30" textLength="6.84" lengthAdjust="spacingAndGlyphs" fill="#111" >4</text>
<line x1="305.00" y1="692.80" x2="310.00" y2="692.80" stroke="#1a1a1a" stroke-width="1.1" />
<text x="292.90" y="697.03" font-size="12.30" textLength="6.84" lengthAdjust="spacingAndGlyphs" fill="#111" >3</text>
<line x1="305.00" y1="727.40" x2="310.00" y2="727.40" stroke="#1a1a1a" stroke-width="1.1" />
<text x="292.99" y="731.63" font-size="12.30" textLength="6.84" lengthAdjust="spacingAndGlyphs" fill="#111" >2</text>
<line x1="305.00" y1="760.80" x2="310.00" y2="760.80" stroke="#1a1a1a" stroke-width="1.1" />
<text x="292.96" y="765.03" font-size="12.30" textLength="6.84" lengthAdjust="spacingAndGlyphs" fill="#111" >1</text>
<line x1="305.00" y1="795.00" x2="310.00" y2="795.00" stroke="#1a1a1a" stroke-width="1.1" />
<text x="292.83" y="799.23" font-size="12.30" textLength="6.84" lengthAdjust="spacingAndGlyphs" fill="#111" >0</text>
<line x1="354.50" y1="795.00" x2="354.50" y2="799.20" stroke="#1a1a1a" stroke-width="1.1" />
<line x1="411.40" y1="795.00" x2="411.40" y2="799.20" stroke="#1a1a1a" stroke-width="1.1" />
<line x1="340.20" y1="624.80" x2="426.10" y2="624.80" stroke="#555" stroke-width="1.3" />
<text x="374.95" y="621.40" font-size="12.00" textLength="16.39" lengthAdjust="spacingAndGlyphs" fill="#111" >***</text>
<text x="329.75" y="819.20" font-size="14.80" textLength="45.39" lengthAdjust="spacingAndGlyphs" fill="#111" >Low P</text>
<text x="387.47" y="819.20" font-size="14.80" textLength="48.36" lengthAdjust="spacingAndGlyphs" fill="#111" >High P</text>
<text transform="translate(268.80,759.74) rotate(-90)" font-size="14.00" textLength="122.34" lengthAdjust="spacingAndGlyphs" fill="#111">AM fungus-induced</text>
<text transform="translate(284.70,777.34) rotate(-90)" font-size="14.00" textLength="161.49" lengthAdjust="spacingAndGlyphs" fill="#111">ALP production efficiency</text>
<path d="M261.38,568.90 Q249.27,580.40 261.38,591.90" fill="none" stroke="#111" stroke-width="1.25"/>
<path d="M276.52,568.90 Q288.62,580.40 276.52,591.90" fill="none" stroke="#111" stroke-width="1.25"/>
<text x="265.25" y="587.90" font-size="26.00" textLength="8.39" lengthAdjust="spacingAndGlyphs" fill="#000" >f</text>
<rect x="563.50" y="670.50" width="42.50" height="123.90" fill="#8dd3c7" stroke="#1a1a1a" stroke-width="1.1"/>
<rect x="616.40" y="747.50" width="43.00" height="46.90" fill="#ffffb3" stroke="#1a1a1a" stroke-width="1.1"/>
<line x1="584.70" y1="670.50" x2="584.70" y2="645.60" stroke="#1a1a1a" stroke-width="1.0" />
<line x1="578.30" y1="645.60" x2="591.10" y2="645.60" stroke="#1a1a1a" stroke-width="1.0" />
<line x1="638.00" y1="747.50" x2="638.00" y2="739.30" stroke="#1a1a1a" stroke-width="1.0" />
<line x1="631.80" y1="739.30" x2="644.20" y2="739.30" stroke="#1a1a1a" stroke-width="1.0" />
<circle cx="578.40" cy="634.30" r="1.4" fill="#000"/>
<circle cx="589.50" cy="673.70" r="1.4" fill="#000"/>
<circle cx="577.30" cy="683.40" r="1.4" fill="#000"/>
<circle cx="595.40" cy="690.90" r="1.4" fill="#000"/>
<circle cx="627.50" cy="739.30" r="1.4" fill="#000"/>
<circle cx="643.10" cy="742.50" r="1.4" fill="#000"/>
<circle cx="643.80" cy="750.60" r="1.4" fill="#000"/>
<circle cx="629.60" cy="757.00" r="1.4" fill="#000"/>
<rect x="538.30" y="590.70" width="145.70" height="203.70" fill="none" stroke="#222" stroke-width="1.25"/>
<line x1="533.30" y1="590.70" x2="538.30" y2="590.70" stroke="#1a1a1a" stroke-width="1.1" />
<text x="514.41" y="594.93" font-size="12.30" textLength="13.68" lengthAdjust="spacingAndGlyphs" fill="#111" >20</text>
<line x1="533.30" y1="631.30" x2="538.30" y2="631.30" stroke="#1a1a1a" stroke-width="1.1" />
<text x="514.47" y="635.53" font-size="12.30" textLength="13.68" lengthAdjust="spacingAndGlyphs" fill="#111" >16</text>
<line x1="533.30" y1="671.80" x2="538.30" y2="671.80" stroke="#1a1a1a" stroke-width="1.1" />
<text x="514.56" y="676.03" font-size="12.30" textLength="13.68" lengthAdjust="spacingAndGlyphs" fill="#111" >12</text>
<line x1="533.30" y1="712.50" x2="538.30" y2="712.50" stroke="#1a1a1a" stroke-width="1.1" />
<text x="521.30" y="716.73" font-size="12.30" textLength="6.84" lengthAdjust="spacingAndGlyphs" fill="#111" >8</text>
<line x1="533.30" y1="753.30" x2="538.30" y2="753.30" stroke="#1a1a1a" stroke-width="1.1" />
<text x="521.11" y="757.53" font-size="12.30" textLength="6.84" lengthAdjust="spacingAndGlyphs" fill="#111" >4</text>
<line x1="533.30" y1="794.40" x2="538.30" y2="794.40" stroke="#1a1a1a" stroke-width="1.1" />
<text x="521.23" y="798.63" font-size="12.30" textLength="6.84" lengthAdjust="spacingAndGlyphs" fill="#111" >0</text>
<line x1="582.50" y1="794.40" x2="582.50" y2="798.60" stroke="#1a1a1a" stroke-width="1.1" />
<line x1="640.20" y1="794.40" x2="640.20" y2="798.60" stroke="#1a1a1a" stroke-width="1.1" />
<line x1="567.60" y1="624.80" x2="654.00" y2="624.80" stroke="#555" stroke-width="1.3" />
<text x="602.65" y="621.30" font-size="12.00" textLength="16.50" lengthAdjust="spacingAndGlyphs" fill="#111" >***</text>
<text x="559.14" y="819.00" font-size="14.80" textLength="45.92" lengthAdjust="spacingAndGlyphs" fill="#111" >Low P</text>
<text x="615.39" y="819.00" font-size="14.80" textLength="47.84" lengthAdjust="spacingAndGlyphs" fill="#111" >High P</text>
<text transform="translate(486.30,790.24) rotate(-90)" font-size="14.00" textLength="186.97" lengthAdjust="spacingAndGlyphs" fill="#111">AM fungus-induced organic P</text>
<text transform="translate(503.30,770.76) rotate(-90)" font-size="14.00" textLength="151.51" lengthAdjust="spacingAndGlyphs" fill="#111">mineralization efficiency</text>
<path d="M481.38,567.00 Q469.27,578.35 481.38,589.70" fill="none" stroke="#111" stroke-width="1.25"/>
<path d="M504.52,567.00 Q516.62,578.35 504.52,589.70" fill="none" stroke="#111" stroke-width="1.25"/>
<text x="485.15" y="585.30" font-size="26.00" textLength="16.31" lengthAdjust="spacingAndGlyphs" fill="#000" >g</text>
</svg></body></html>
